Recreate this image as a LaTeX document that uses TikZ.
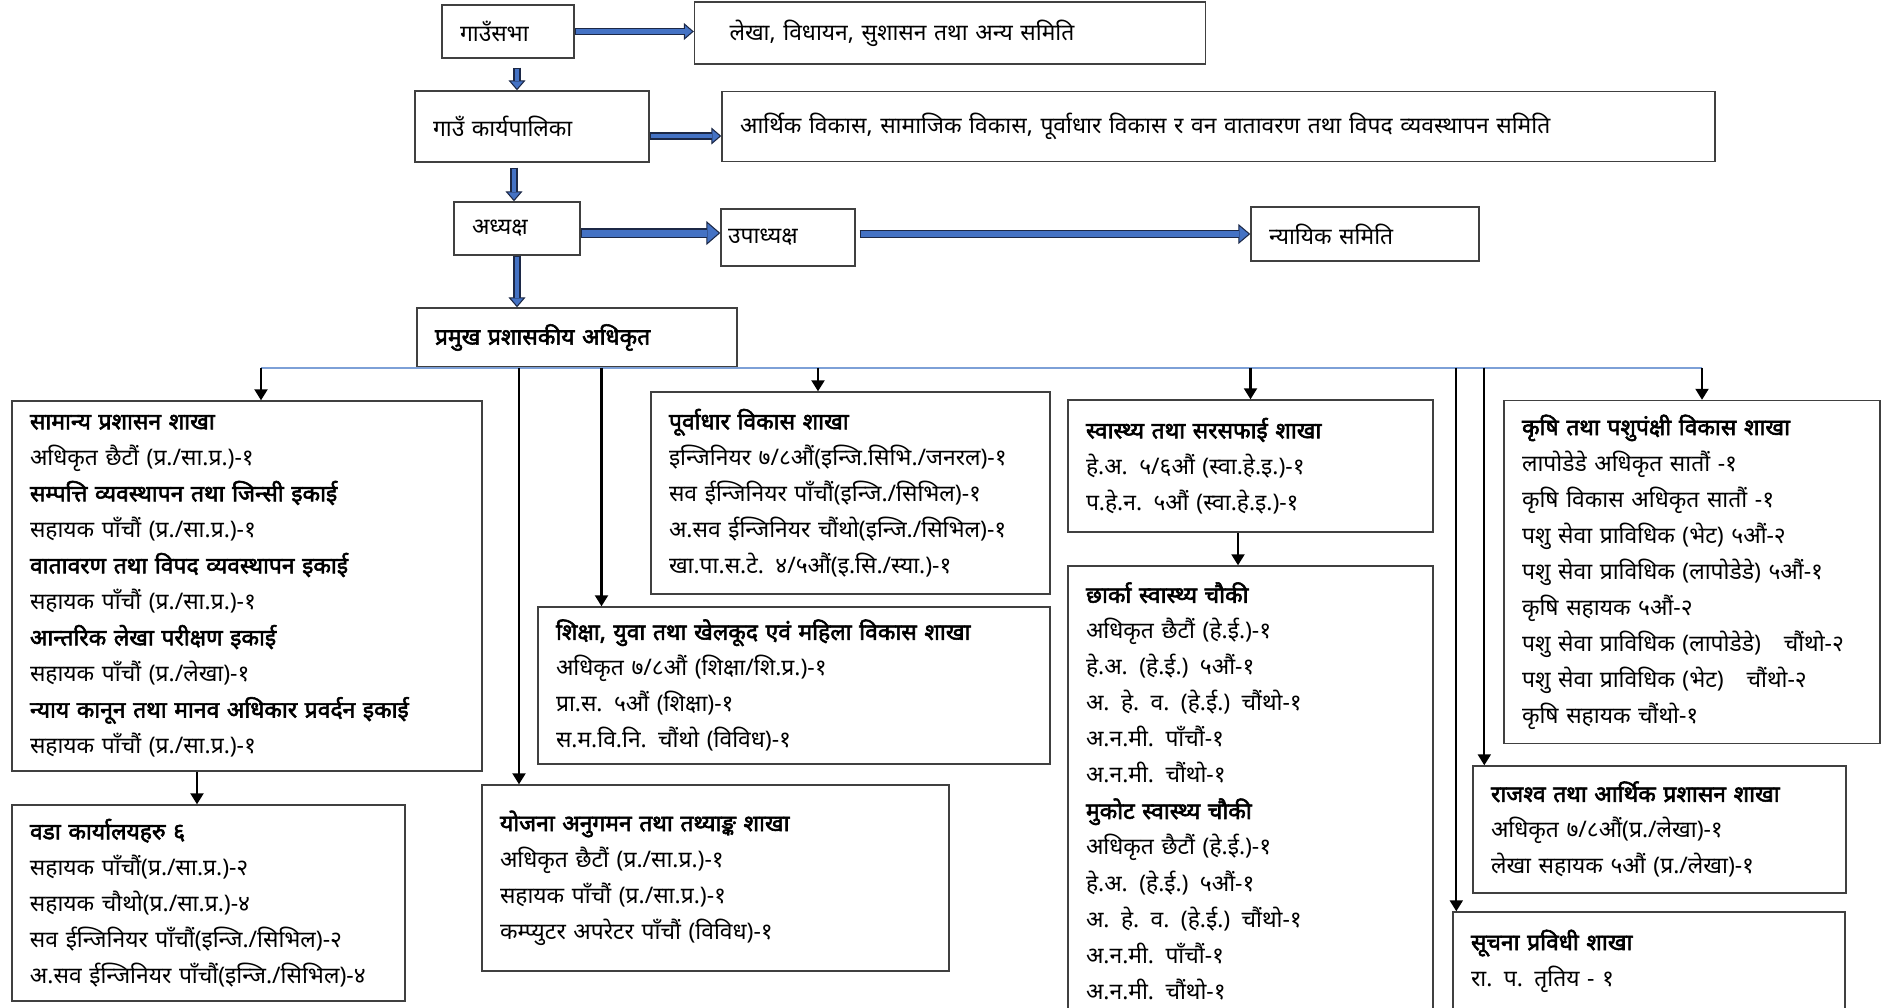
\documentclass[tikz,border=0pt]{standalone}
\usepackage{fontspec}
\setmainfont{Noto Sans}[Script=Devanagari, BoldFont={Noto Sans}, BoldFeatures={FakeBold=2.5}]
\usetikzlibrary{arrows.meta, positioning, calc}
\definecolor{boxline}{RGB}{64,64,64}
\definecolor{blockfill}{RGB}{68,114,196}
\definecolor{blockedge}{RGB}{28,40,70}
\definecolor{busblue}{RGB}{125,160,215}
\tikzstyle{council} = [rectangle, draw=boxline, line width=0.8pt, inner xsep=0.36cm, inner ysep=0.1cm, align=left, font=\fontsize{13}{20.5}\selectfont]
\tikzstyle{branch} = [rectangle, draw=boxline, line width=0.8pt, inner xsep=0.36cm, inner ysep=0.1cm, align=left, font=\fontsize{13}{20.5}\selectfont]
\tikzstyle{arrow} = [line width=1.2pt, -{Triangle[length=0.22cm, width=0.26cm]}]
\tikzstyle{busline} = [draw=busblue, line width=0.9pt]
\tikzstyle{thinblock} = [draw=blockedge, line width=0.15cm, -{Triangle[length=0.2cm, width=0.34cm, line width=0.6pt, fill=blockfill]}, postaction={draw=blockfill, line width=0.09cm, arrows=-, shorten >=0.18cm, shorten <=0.03cm}]
\tikzstyle{midblock} = [draw=blockedge, line width=0.17cm, -{Triangle[length=0.24cm, width=0.4cm, line width=0.6pt, fill=blockfill]}, postaction={draw=blockfill, line width=0.11cm, arrows=-, shorten >=0.22cm, shorten <=0.03cm}]
\tikzstyle{wideblock} = [draw=blockedge, line width=0.2cm, -{Triangle[length=0.28cm, width=0.48cm, line width=0.6pt, fill=blockfill]}, postaction={draw=blockfill, line width=0.14cm, arrows=-, shorten >=0.26cm, shorten <=0.03cm}]
\begin{document}
\begin{tikzpicture}[node distance=2cm]
\useasboundingbox (0,0) rectangle (37.68,-20.14);

% Village assembly
\node (gaunsabha) [council, text width=1.92cm, minimum height=1.06cm] at (10.16,-0.63) {गाउँसभा};
\node (lekha) [council, right of=gaunsabha, xshift=6.84cm, yshift=-0.03cm, inner xsep=0.7cm, text width=8.82cm, minimum height=1.24cm] {लेखा, विधायन, सुशासन तथा अन्य समिति};

% Executive
\node (karya) [council, below of=gaunsabha, xshift=0.48cm, yshift=0.1cm, text width=3.96cm, minimum height=1.42cm] {गाउँ कार्यपालिका};
\node (arthik) [council, right of=karya, xshift=11.73cm, text width=19.14cm, minimum height=1.40cm] {आर्थिक विकास, सामाजिक विकास, पूर्वाधार विकास र वन वातावरण तथा विपद व्यवस्थापन समिति};

% Chair and vice chair
\node (adh) [council, below of=karya, xshift=-0.30cm, yshift=-0.04cm, text width=1.80cm, minimum height=1.06cm] {अध्यक्ष};
\node (upa) [council, right of=adh, xshift=3.42cm, yshift=-0.18cm, inner xsep=0.14cm, text width=2.40cm, minimum height=1.14cm] {उपाध्यक्ष};
\node (nyayik) [council, right of=upa, xshift=9.54cm, yshift=0.07cm, text width=3.84cm, minimum height=1.08cm] {न्यायिक समिति};

% Chief administrative officer
\node (pramukh) [council, below of=adh, xshift=1.20cm, yshift=-0.18cm, text width=5.68cm, minimum height=1.18cm, font=\fontsize{13}{20.5}\selectfont\bfseries] {प्रमुख प्रशासकीय अधिकृत};

% Left column
\node (samanya) [branch, below of=pramukh, xshift=-6.60cm, yshift=-2.97cm, text width=8.68cm, minimum height=7.40cm] {
\textbf{सामान्य प्रशासन शाखा}\\
अधिकृत छैटौं (प्र./सा.प्र.)-१\\
\textbf{सम्पत्ति व्यवस्थापन तथा जिन्सी इकाई}\\
सहायक पाँचौं (प्र./सा.प्र.)-१\\
\textbf{वातावरण तथा विपद व्यवस्थापन इकाई}\\
सहायक पाँचौं (प्र./सा.प्र.)-१\\
\textbf{आन्तरिक लेखा परीक्षण इकाई}\\
सहायक पाँचौं (प्र./लेखा)-१\\
\textbf{न्याय कानून तथा मानव अधिकार प्रवर्दन इकाई}\\
सहायक पाँचौं (प्र./सा.प्र.)-१
};
\node (wada) [branch, below of=samanya, xshift=-0.77cm, yshift=-4.34cm, text width=7.14cm, minimum height=3.92cm] {
\textbf{वडा कार्यालयहरु ६}\\
सहायक पाँचौं(प्र./सा.प्र.)-२\\
सहायक चौथो(प्र./सा.प्र.)-४\\
सव ईन्जिनियर पाँचौं(इन्जि./सिभिल)-२\\
अ.सव ईन्जिनियर पाँचौं(इन्जि./सिभिल)-४
};

% Middle column
\node (purvadhar) [branch, below of=pramukh, xshift=5.47cm, yshift=-1.11cm, text width=7.26cm, minimum height=4.04cm] {
\textbf{पूर्वाधार विकास शाखा}\\
इन्जिनियर ७/८औं(इन्जि.सिभि./जनरल)-१\\
सव ईन्जिनियर पाँचौं(इन्जि./सिभिल)-१\\
अ.सव ईन्जिनियर चौंथो(इन्जि./सिभिल)-१\\
खा.पा.स.टे. ४/५औं(इ.सि./स्या.)-१
};
\node (shiksha) [branch, below of=purvadhar, xshift=-1.13cm, yshift=-1.85cm, text width=9.52cm, minimum height=3.14cm] {
\textbf{शिक्षा, युवा तथा खेलकूद एवं महिला विकास शाखा}\\
अधिकृत ७/८औं (शिक्षा/शि.प्र.)-१\\
प्रा.स. ५औं (शिक्षा)-१\\
स.म.वि.नि. चौंथो (विविध)-१
};
\node (yojana) [branch, below of=shiksha, xshift=-1.57cm, yshift=-1.85cm, text width=8.62cm, minimum height=3.72cm] {
\textbf{योजना अनुगमन तथा तथ्याङ्क शाखा}\\
अधिकृत छैटौं (प्र./सा.प्र.)-१\\
सहायक पाँचौं (प्र./सा.प्र.)-१\\
कम्प्युटर अपरेटर पाँचौं (विविध)-१
};

% Health
\node (swasthya) [branch, right of=purvadhar, xshift=6.00cm, yshift=0.54cm, text width=6.58cm, minimum height=2.64cm] {
\textbf{स्वास्थ्य तथा सरसफाई शाखा}\\
हे.अ. ५/६औं (स्वा.हे.इ.)-१\\
प.हे.न. ५औं (स्वा.हे.इ.)-१
};
\node (chharka) [branch, below of=swasthya, yshift=-4.50cm, text width=6.58cm, minimum height=9.00cm] {
\textbf{छार्का स्वास्थ्य चौकी}\\
अधिकृत छैटौं (हे.ई.)-१\\
हे.अ. (हे.ई.) ५औं-१\\
अ. हे. व. (हे.ई.) चौंथो-१\\
अ.न.मी. पाँचौं-१\\
अ.न.मी. चौंथो-१\\
\textbf{मुकोट स्वास्थ्य चौकी}\\
अधिकृत छैटौं (हे.ई.)-१\\
हे.अ. (हे.ई.) ५औं-१\\
अ. हे. व. (हे.ई.) चौंथो-१\\
अ.न.मी. पाँचौं-१\\
अ.न.मी. चौंथो-१
};

% Right column
\node (krishi) [branch, right of=swasthya, xshift=6.83cm, yshift=-2.12cm, text width=6.80cm, minimum height=6.86cm] {
\textbf{कृषि तथा पशुपंक्षी विकास शाखा}\\
लापोडेडे अधिकृत सातौं -१\\
कृषि विकास अधिकृत सातौं -१\\
पशु सेवा प्राविधिक (भेट) ५औं-२\\
पशु सेवा प्राविधिक (लापोडेडे) ५औं-१\\
कृषि सहायक ५औं-२\\
पशु सेवा प्राविधिक (लापोडेडे) \ \ चौंथो-२\\
पशु सेवा प्राविधिक (भेट) \ \ चौंथो-२\\
कृषि सहायक चौंथो-१
};
\node (rajaswa) [branch, below of=krishi, xshift=-0.65cm, yshift=-3.15cm, text width=6.74cm, minimum height=2.54cm] {
\textbf{राजश्व तथा आर्थिक प्रशासन शाखा}\\
अधिकृत ७/८औं(प्र./लेखा)-१\\
लेखा सहायक ५औं (प्र./लेखा)-१
};
\node (suchana) [branch, below of=rajaswa, xshift=-0.21cm, yshift=-0.63cm, text width=7.12cm, minimum height=1.96cm] {
\textbf{सूचना प्रविधी शाखा}\\
रा. प. तृतिय - १
};

% Block arrows at the top
\coordinate (gsdown) at ([xshift=0.18cm, yshift=-0.18cm]gaunsabha.south);
\coordinate (kdown) at ([xshift=-0.36cm, yshift=-0.1cm]karya.south);
\coordinate (kright) at ([yshift=-0.19cm]karya.east);
\coordinate (adright) at ([yshift=-0.09cm]adh.east);
\coordinate (upright) at ([xshift=0.08cm, yshift=0.07cm]upa.east);
\draw [thinblock] (gaunsabha.east) -- (gaunsabha.east -| lekha.west);
\draw [thinblock] (gsdown) -- (gsdown |- karya.north);
\draw [thinblock] (kright) -- (kright -| arthik.west);
\draw [thinblock] (kdown) -- (kdown |- adh.north);
\draw [wideblock] (adright) -- (adright -| upa.west);
\draw [midblock] (upright) -- (upright -| nyayik.west);
\draw [thinblock] (adh.south) -- (adh.south |- pramukh.north);

% Branch bus
\coordinate (busA) at ($(samanya.north |- pramukh.south)+(0.28,0)$);
\coordinate (busB) at ($(pramukh.south)+(-1.16,0)$);
\coordinate (busC) at ($(pramukh.south)+(0.49,0)$);
\coordinate (busD) at ($(purvadhar.north |- pramukh.south)+(-0.65,0)$);
\coordinate (busE) at (swasthya.north |- pramukh.south);
\coordinate (busF) at ($(suchana.north west |- pramukh.south)+(0.08,0)$);
\coordinate (busG) at ($(rajaswa.north west |- pramukh.south)+(0.24,0)$);
\coordinate (busH) at ($(krishi.north |- pramukh.south)+(0.2,0)$);
\draw [busline] (busA) -- (busH);

% Arrows
\draw [arrow] (busA) -- (busA |- samanya.north);
\draw [arrow] (busB) -- (busB |- yojana.north);
\draw [arrow] (busC) -- (busC |- shiksha.north);
\draw [arrow] (busD) -- (busD |- purvadhar.north);
\draw [arrow] (busE) -- (swasthya.north);
\draw [arrow] (busF) -- (busF |- suchana.north);
\draw [arrow] (busG) -- (busG |- rajaswa.north);
\draw [arrow] (busH) -- (busH |- krishi.north);

\coordinate (sdown) at ([xshift=-1.0cm]samanya.south);
\coordinate (hdown) at ([xshift=-0.25cm]swasthya.south);
\draw [arrow] (sdown) -- (sdown |- wada.north);
\draw [arrow] (hdown) -- (hdown |- chharka.north);

\end{tikzpicture}
\end{document}
